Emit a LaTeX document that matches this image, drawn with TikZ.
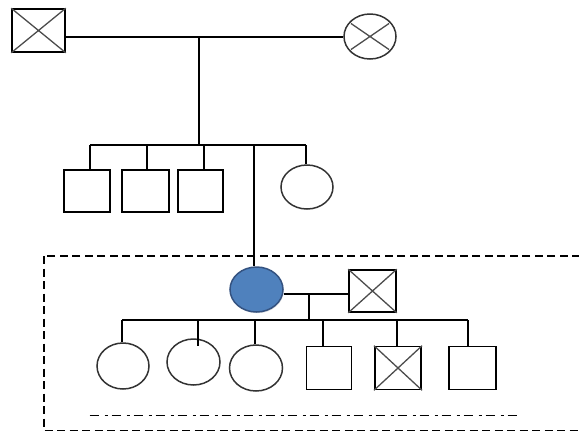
\documentclass[tikz,border=0pt]{standalone}
\usetikzlibrary{shapes.geometric,calc,shadows}
\definecolor{motherfill}{RGB}{79,129,189}
\definecolor{motherline}{RGB}{52,82,128}
\begin{document}
\begin{tikzpicture}[x=1pt,y=-1pt,line width=1.5pt,
  male/.style={draw, rectangle, inner sep=0pt, minimum width=46pt, minimum height=42pt, line width=1.6pt},
  female/.style={draw=black!80, ellipse, inner sep=0pt, minimum width=52pt, minimum height=45pt, line width=1.5pt},
  crossline/.style={draw=black!70, line width=1.3pt},
  famline/.style={draw, line width=1.5pt},
  boxline/.style={draw, line width=1.4pt, dash pattern=on 8pt off 4.5pt},
  dotdash/.style={draw, line width=1.5pt, dash pattern=on 9pt off 6pt on 3pt off 4pt}
]
\useasboundingbox (0,0) rectangle (579,432);
\clip (0,0) rectangle (579,432);

% generation I
\node[male, minimum width=53pt, minimum height=43pt] (gf) at (38.5,30.5) {};
\node[female, minimum width=52pt, minimum height=45pt] (gm) at (370,36.5) {};
\draw[crossline] (gf.north west) -- (gf.south east) (gf.north east) -- (gf.south west);
\draw[crossline] ($(gm)+(-19,-13)$) -- ($(gm)+(19,13)$) ($(gm)+(19,-13)$) -- ($(gm)+(-19,13)$);
\coordinate (m1) at (199,37);
\coordinate (s1) at (199,145);
\draw[famline] (m1 -| gf.east) -- (m1 -| gm.west);
\draw[famline] (m1) -- (s1);

% generation II
\node[male, minimum width=46pt] (a1) at (87,191) {};
\node[male, minimum width=47pt] (a2) at (145.5,191) {};
\node[male, minimum width=45pt] (a3) at (200.5,191) {};
\node[female, minimum width=52pt, minimum height=44pt] (a5) at (307,187) {};
\node[female, draw=motherline, fill=motherfill, minimum width=53pt, minimum height=45pt,
      drop shadow={opacity=0.25, shadow xshift=0.8pt, shadow yshift=-1.2pt}] (mo) at (256.5,289.5) {};
\node[male, minimum width=47pt, minimum height=42pt] (hu) at (372.5,291) {};
\draw[crossline] (hu.north west) -- (hu.south east) (hu.north east) -- (hu.south west);

\coordinate (k1) at (90,145);
\coordinate (k2) at (147,145);
\coordinate (k3) at (204,145);
\coordinate (k4) at (254,145);
\coordinate (k5) at (306,145);
\draw[famline] (k1) -- (k5);
\draw[famline] (k1) -- (k1 |- a1.north);
\draw[famline] (k2) -- (k2 |- a2.north);
\draw[famline] (k3) -- (k3 |- a3.north);
\draw[famline] (k4) -- (k4 |- mo.north);
\draw[famline] (k5) -- (k5 |- a5.north);

% generation III
\coordinate (m2) at (309,294);
\coordinate (s2) at (309,320);
\draw[famline] (m2 -| mo.east) -- (m2 -| hu.west);
\draw[famline] (m2) -- (s2);

\node[female, minimum width=52pt, minimum height=46pt] (c1) at (123,366) {};
\node[female, minimum width=53pt, minimum height=46pt] (c2) at (193.5,362) {};
\node[female, minimum width=53pt, minimum height=46pt] (c3) at (256,368) {};
\node[male, minimum width=45pt, minimum height=43pt] (d1) at (329,368) {};
\node[male, minimum width=46.5pt, minimum height=43pt] (d2) at (398,368) {};
\node[male, minimum width=47pt, minimum height=43pt] (d3) at (472.5,368) {};
\draw[crossline] (d2.north west) -- (d2.south east) (d2.north east) -- (d2.south west);

\coordinate (j1) at (122,320);
\coordinate (j2) at (198,320);
\coordinate (j3) at (255,320);
\coordinate (j4) at (323,320);
\coordinate (j5) at (397,320);
\coordinate (j6) at (468,320);
\draw[famline] (j1) -- (j6);
\draw[famline] (j1) -- (j1 |- c1.north);
\draw[famline] (j2) -- ($(j2 |- c2.north)+(0,8)$);
\draw[famline] (j3) -- (j3 |- c3.north);
\draw[famline] (j4) -- (j4 |- d1.north);
\draw[famline] (j5) -- (j5 |- d2.north);
\draw[famline] (j6) -- (j6 |- d3.north);

% boundary and dash-dot line
\draw[boxline] (44,256) rectangle (600,430.5);
\coordinate (l1) at (89.5,415.5);
\coordinate (l2) at (519,415.5);
\draw[dotdash] (l1) -- (l2);
\end{tikzpicture}
\end{document}
